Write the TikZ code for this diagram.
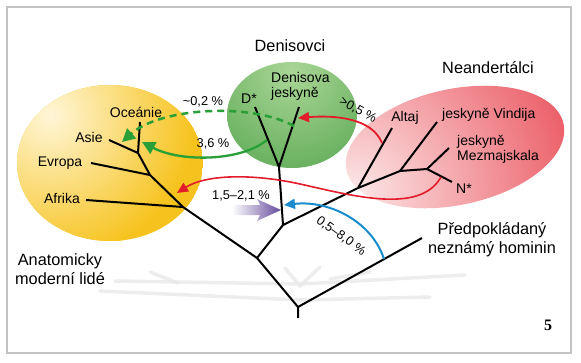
\documentclass[tikz,border=0pt]{standalone}
\usepackage{fontspec}
\setmainfont{Liberation Sans}
\newfontfamily\numfont{Liberation Serif}
\usetikzlibrary{arrows.meta}
\definecolor{yelLight}{RGB}{255,246,215}
\definecolor{yelDark}{RGB}{246,195,30}
\definecolor{grnLight}{RGB}{170,214,150}
\definecolor{grnDark}{RGB}{62,152,60}
\definecolor{redLight}{RGB}{252,232,232}
\definecolor{redDark}{RGB}{228,32,46}
\definecolor{grnArrow}{RGB}{40,160,55}
\definecolor{redArrow}{RGB}{226,28,42}
\definecolor{bluArrow}{RGB}{25,140,205}
\definecolor{purArrow}{RGB}{100,75,155}
\definecolor{frameGray}{RGB}{195,195,195}
\begin{document}
\begin{tikzpicture}[x=1pt,y=-1pt,
  branch/.style={line width=2pt},
  lbl/.style={inner sep=0pt,anchor=base,font=\fontsize{14}{15}\selectfont},
  biglbl/.style={inner sep=0pt,align=center,font=\fontsize{16.3}{19}\selectfont},
  pct/.style={inner sep=0pt,anchor=base,font=\fontsize{12.8}{14}\selectfont},
  gene/.style={line width=#1},
  bighead/.style={-{Triangle[length=13pt,width=13pt]}},
  smallhead/.style={-{Triangle[length=11pt,width=10pt]}},
  shadowline/.style={black!9,line width=3.5pt,line cap=round,opacity=0.8}]
\useasboundingbox (0,0) rectangle (581,362);
\draw[frameGray,line width=1.5pt](7,7) rectangle (571,353);
%blobs
\begin{scope}
\clip (110,163) ellipse [x radius=93,y radius=78];
\fill[yelDark] (110,163) ellipse [x radius=93,y radius=78];
\shade[inner color=yelLight,outer color=yelDark] (50,115) circle (145);
\end{scope}
\begin{scope}
\clip (292,115) ellipse [x radius=65,y radius=53];
\shade[inner color=grnLight,outer color=grnDark] (292,72) circle (160);
\end{scope}
\begin{scope}[shift={(455,147)},rotate=12]
\clip (0,0) ellipse [x radius=111,y radius=58];
\shade[inner color=redLight,outer color=redDark] (-105,6) circle (300);
\end{scope}
%shadow of the tree
\draw[shadowline](100,291)--(300,300)--(430,297);
\draw[shadowline](115,281)--(300,284)--(465,275);
\draw[shadowline](150,272)--(178,283);
\draw[shadowline](285,268)--(300,286)--(320,267);
\draw[shadowline](330,279)--(370,272);
%tree
\coordinate(rootEnd) at (298,318);
\coordinate(root) at (298,307);
\coordinate(mSplit) at (257,258);
\coordinate(homTip) at (422,238);
\coordinate(archSplit) at (283,225);
\coordinate(afrJ) at (183,207);
\coordinate(evrJ) at (150,175);
\coordinate(asiJ) at (138,153);
\coordinate(oceTip) at (140,122);
\coordinate(asiTip) at (109,140);
\coordinate(evrTip) at (91,163);
\coordinate(afrTip) at (86,200);
\coordinate(denJ) at (279,167);
\coordinate(dStarTip) at (255,107);
\coordinate(denTip) at (299,107);
\coordinate(neaJ) at (358,188);
\coordinate(altTip) at (392,128);
\coordinate(neaJb) at (400,171);
\coordinate(vinTip) at (437,122);
\coordinate(neaJc) at (427,169);
\coordinate(mezTip) at (449,148);
\coordinate(nStarTip) at (452,182);
\draw[branch](rootEnd)--(root)--(homTip);
\draw[branch](root)--(mSplit)--(afrJ)--(evrJ)--(asiJ)--(oceTip);
\draw[branch](afrTip)--(afrJ);
\draw[branch](evrTip)--(evrJ);
\draw[branch](asiTip)--(asiJ);
\draw[branch](mSplit)--(archSplit)--(denJ)--(dStarTip);
\draw[branch](denJ)--(denTip);
\draw[branch](archSplit)--(neaJ)--(altTip);
\draw[branch](neaJ)--(neaJb)--(vinTip);
\draw[branch](neaJb)--(neaJc)--(mezTip);
\draw[branch](neaJc)--(nStarTip);
%gene flow
\coordinate(dashStart) at (294,126);
\coordinate(dashEnd) at (122,142);
\coordinate(solStart) at (267,140);
\coordinate(solEnd) at (142,142);
\coordinate(altFrom) at (382,143);
\coordinate(denTo) at (298,118);
\coordinate(nStarFrom) at (441,177);
\coordinate(redMid) at (300,184);
\coordinate(afrTo) at (177,193);
\coordinate(homFrom) at (384,259);
\coordinate(stemTo) at (284,205);
\draw[grnArrow,gene=2.5pt,bighead,dash pattern=on 7pt off 5pt](dashStart) .. controls (250,102) and (160,108) .. (dashEnd);
\draw[grnArrow,gene=2.3pt,bighead](solStart) .. controls (240,162) and (180,162) .. (solEnd);
\draw[redArrow,gene=1.8pt,smallhead](altFrom) .. controls (372,118) and (335,115) .. (denTo);
\draw[redArrow,gene=1.6pt](nStarFrom) .. controls (420,215) and (350,195) .. (redMid);
\draw[redArrow,gene=1.6pt,smallhead](redMid) .. controls (250,173) and (205,175) .. (afrTo);
\draw[bluArrow,gene=2pt,smallhead](homFrom) .. controls (372,222) and (330,200) .. (stemTo);
\shade[left color=white,right color=purArrow](232,205)--(260,205)--(257,199)--(281,210)--(257,221)--(260,215)--(232,215)--cycle;
%labels
\node[lbl](oce) at (136,117){Oceánie};
\node[lbl](asi) at (89,142){Asie};
\node[lbl](evr) at (60,166){Evropa};
\node[lbl](afr) at (62,203){Afrika};
\node[lbl](dStar) at (249,103){D*};
\node[lbl,anchor=west,align=left](denCave) at (271,86){Denisova\\jeskyně};
\node[lbl](alt) at (405,121){Altaj};
\node[lbl,anchor=base west](vin) at (442,118){jeskyně Vindija};
\node[lbl,anchor=west,align=left](mez) at (457,149){jeskyně\\Mezmajskala};
\node[lbl](nStar) at (464,193){N*};
\node[biglbl,anchor=base](denis) at (290,51){Denisovci};
\node[biglbl,anchor=base](neand) at (488,73){Neandertálci};
\node[biglbl](modern) at (60,269){Anatomicky\\moderní lidé};
\node[biglbl](unknown) at (492,240){Předpokládaný\\neznámý hominin};
\node[pct](pctDash) at (203,105){\textasciitilde0,2 \%};
\node[pct](pctSol) at (213,147){3,6 \%};
\node[pct,anchor=center,rotate=-29](pctAlt) at (358,110){>0,5 \%};
\node[pct](pctAfr) at (241,199){1,5--2,1 \%};
\node[pct,anchor=center,rotate=-36](pctHom) at (341,236){0,5--8,0 \%};
\node[inner sep=0pt,anchor=base,font=\numfont\bfseries\fontsize{16}{18}\selectfont](figNo) at (548,330){5};
\end{tikzpicture}
\end{document}
